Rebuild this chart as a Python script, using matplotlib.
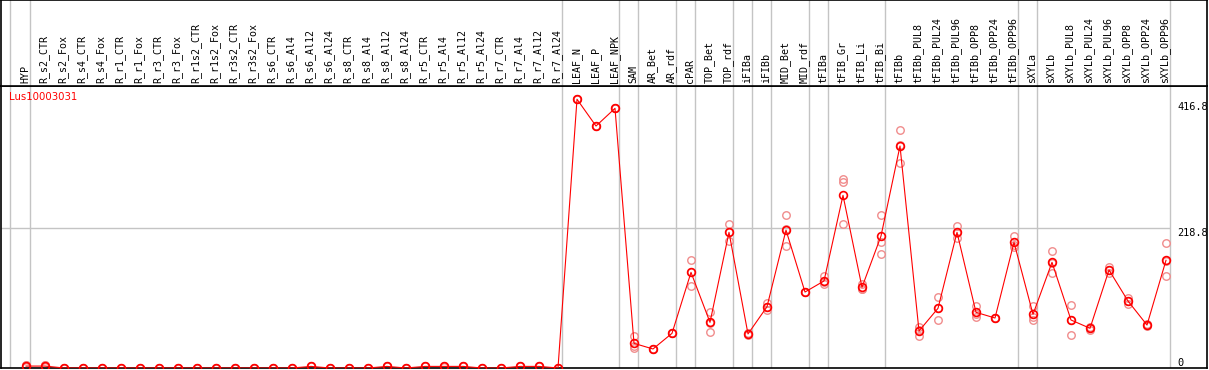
import matplotlib
matplotlib.use("Agg")
import matplotlib.pyplot as plt

# sample labels along the top
labels = ["HYP",
          "R_s2_CTR", "R_s2_Fox", "R_s4_CTR", "R_s4_Fox", "R_r1_CTR", "R_r1_Fox",
          "R_r3_CTR", "R_r3_Fox", "R_r1s2_CTR", "R_r1s2_Fox", "R_r3s2_CTR", "R_r3s2_Fox",
          "R_s6_CTR", "R_s6_Al4", "R_s6_Al12", "R_s6_Al24", "R_s8_CTR", "R_s8_Al4",
          "R_s8_Al12", "R_s8_Al24", "R_r5_CTR", "R_r5_Al4", "R_r5_Al12", "R_r5_Al24",
          "R_r7_CTR", "R_r7_Al4", "R_r7_Al12", "R_r7_Al24",
          "LEAF_N", "LEAF_P", "LEAF_NPK", "SAM", "AR_Bet", "AR_rdf", "cPAR",
          "TOP_Bet", "TOP_rdf", "iFIBa", "iFIBb", "MID_Bet", "MID_rdf", "tFIBa",
          "tFIB_Gr", "tFIB_Li", "tFIB_Bi", "tFIBb", "tFIBb_PUL8", "tFIBb_PUL24",
          "tFIBb_PUL96", "tFIBb_OPP8", "tFIBb_OPP24", "tFIBb_OPP96", "sXYLa",
          "sXYLb", "sXYLb_PUL8", "sXYLb_PUL24", "sXYLb_PUL96", "sXYLb_OPP8",
          "sXYLb_OPP24", "sXYLb_OPP96"]

# mean expression
means = [3.0,
         3.0, 0, 0, 0, 0, 0, 0, 0, 0, 0, 0, 0,
         0, 0, 2.5, 0, 0, 0, 2.5, 0, 2.5, 2.5, 2.5, 0, 0, 2.5, 2.5, 0,
         421.0, 379.0, 406.7, 38.6, 29.8, 54.3, 149.8,
         71.5, 212.5, 53.3, 96.0, 216.0, 119.0, 136.3,
         270.4, 126.4, 206.7, 347.7, 58.0, 93.5,
         212.5, 87.2, 78.3, 196.8, 84.1,
         165.5, 75.2, 62.2, 153.5, 104.9,
         67.3, 168.7]

# replicates
rep1 = [4.7,
        4.7, 0, 0, 0, 0, 0, 0, 0, 0, 0, 0, 0,
        0, 0, 2.5, 0, 0, 0, 2.5, 0, 2.5, 3.5, 2.5, 0, 0, 2.5, 2.5, 0,
        421.0, 379.0, 406.7, 50.0, 29.8, 54.3, 168.6,
        87.2, 225.0, 55.0, 102.3, 239.6, 119.0, 144.0,
        296.5, 131.6, 239.6, 372.8, 64.7, 110.7,
        222.9, 97.1, 78.3, 207.2, 97.1,
        183.2, 98.7, 64.0, 158.7, 109.2,
        69.0, 195.3]
rep2 = [4.0,
        4.0, 0, 0, 0, 0, 0, 0, 0, 0, 0, 0, 0,
        0, 0, 2.5, 0, 0, 0, 2.5, 0, 2.5, 2.5, 2.5, 0, 0, 2.5, 2.5, 0,
        421.0, 379.0, 406.7, 34.0, 29.8, 54.3, 129.0,
        56.9, 199.4, 51.0, 90.9, 191.6, 119.0, 131.6,
        291.8, 123.3, 197.8, 320.6, 50.1, 75.2,
        203.1, 79.4, 78.3, 190.0, 75.2,
        148.3, 51.2, 60.0, 148.3, 100.2,
        66.0, 143.6]
rep3 = [1.0,
        1.0, 0, 0, 0, 0, 0, 0, 0, 0, 0, 0, 0,
        0, 0, 2.5, 0, 0, 0, 2.5, 0, 2.5, 1.5, 2.5, 0, 0, 2.5, 2.5, 0,
        421.0, 379.0, 406.7, 31.0, 29.8, 54.3, 150.0,
        70.0, 213.0, 54.0, 96.0, 217.0, 119.0, 134.0,
        225.0, 124.0, 178.5, 350.0, 59.0, 94.5,
        211.0, 85.0, 78.3, 193.0, 80.0,
        165.0, 75.7, 62.0, 153.0, 105.0,
        67.0, 167.0]

gene = "Lus10003031"
yticks = [0, 218.8, 416.8]
# last index of each sample group (separator drawn after it)
group_ends = [0, 28, 31, 32, 34, 35, 37, 38, 39, 41, 42, 45, 52, 53, 60]

W, H = 1209, 370
fig = plt.figure(figsize=(W / 100, H / 100), dpi=100)
ax = fig.add_axes([1 / W, 2 / H, 1206 / W, 282 / H])
hdr = fig.add_axes([1 / W, 284 / H, 1206 / W, 86 / H], sharex=ax)

x = list(range(len(labels)))
ax.set_xlim(-25 / 19, 1181 / 19)
ax.set_ylim(0, 441.7)

grey = "#c4c4c4"
for a in (ax, hdr):
    a.axvline(-16 / 19, color=grey, lw=1.0)
    for g in group_ends:
        a.axvline(g + 4 / 19, color=grey, lw=1.0)
    for s in a.spines.values():
        s.set_color("black")
        s.set_linewidth(1.2)
    a.tick_params(left=False, bottom=False, labelleft=False, labelbottom=False)

ax.hlines(yticks[1], -25 / 19, group_ends[-1] + 4 / 19, color=grey, lw=1.0)

# replicates, then mean line
for r in (rep1, rep2, rep3):
    ax.plot(x, r, "o", ms=5.4, mfc="none", mec="#f08c8c", mew=1.0, zorder=2)
ax.plot(x, means, "-", color="red", lw=0.8, zorder=3)
ax.plot(x, means, "o", ms=5.6, mfc="none", mec="red", mew=1.2, zorder=4)

# header labels
for i, lab in enumerate(labels):
    hdr.text(i - 0.05, 0.03, lab, rotation=90, ha="center", va="bottom",
             fontsize=7.2, family="DejaVu Sans Mono", color="black")

ax.text(8 / 1206, 0.96, gene, transform=ax.transAxes, color="red",
        fontsize=7.3, va="center", ha="left")

# value labels on the right
tx = (1177 - 26) / 19
tick_font = dict(fontsize=7.4, family="DejaVu Sans Mono")
ax.text(tx, yticks[0], "0", va="bottom", **tick_font)
ax.text(tx, yticks[1], "218.8", va="top", **tick_font)
ax.text(tx, yticks[2], "416.8", va="top", **tick_font)

fig.savefig("out.png", dpi=100)
